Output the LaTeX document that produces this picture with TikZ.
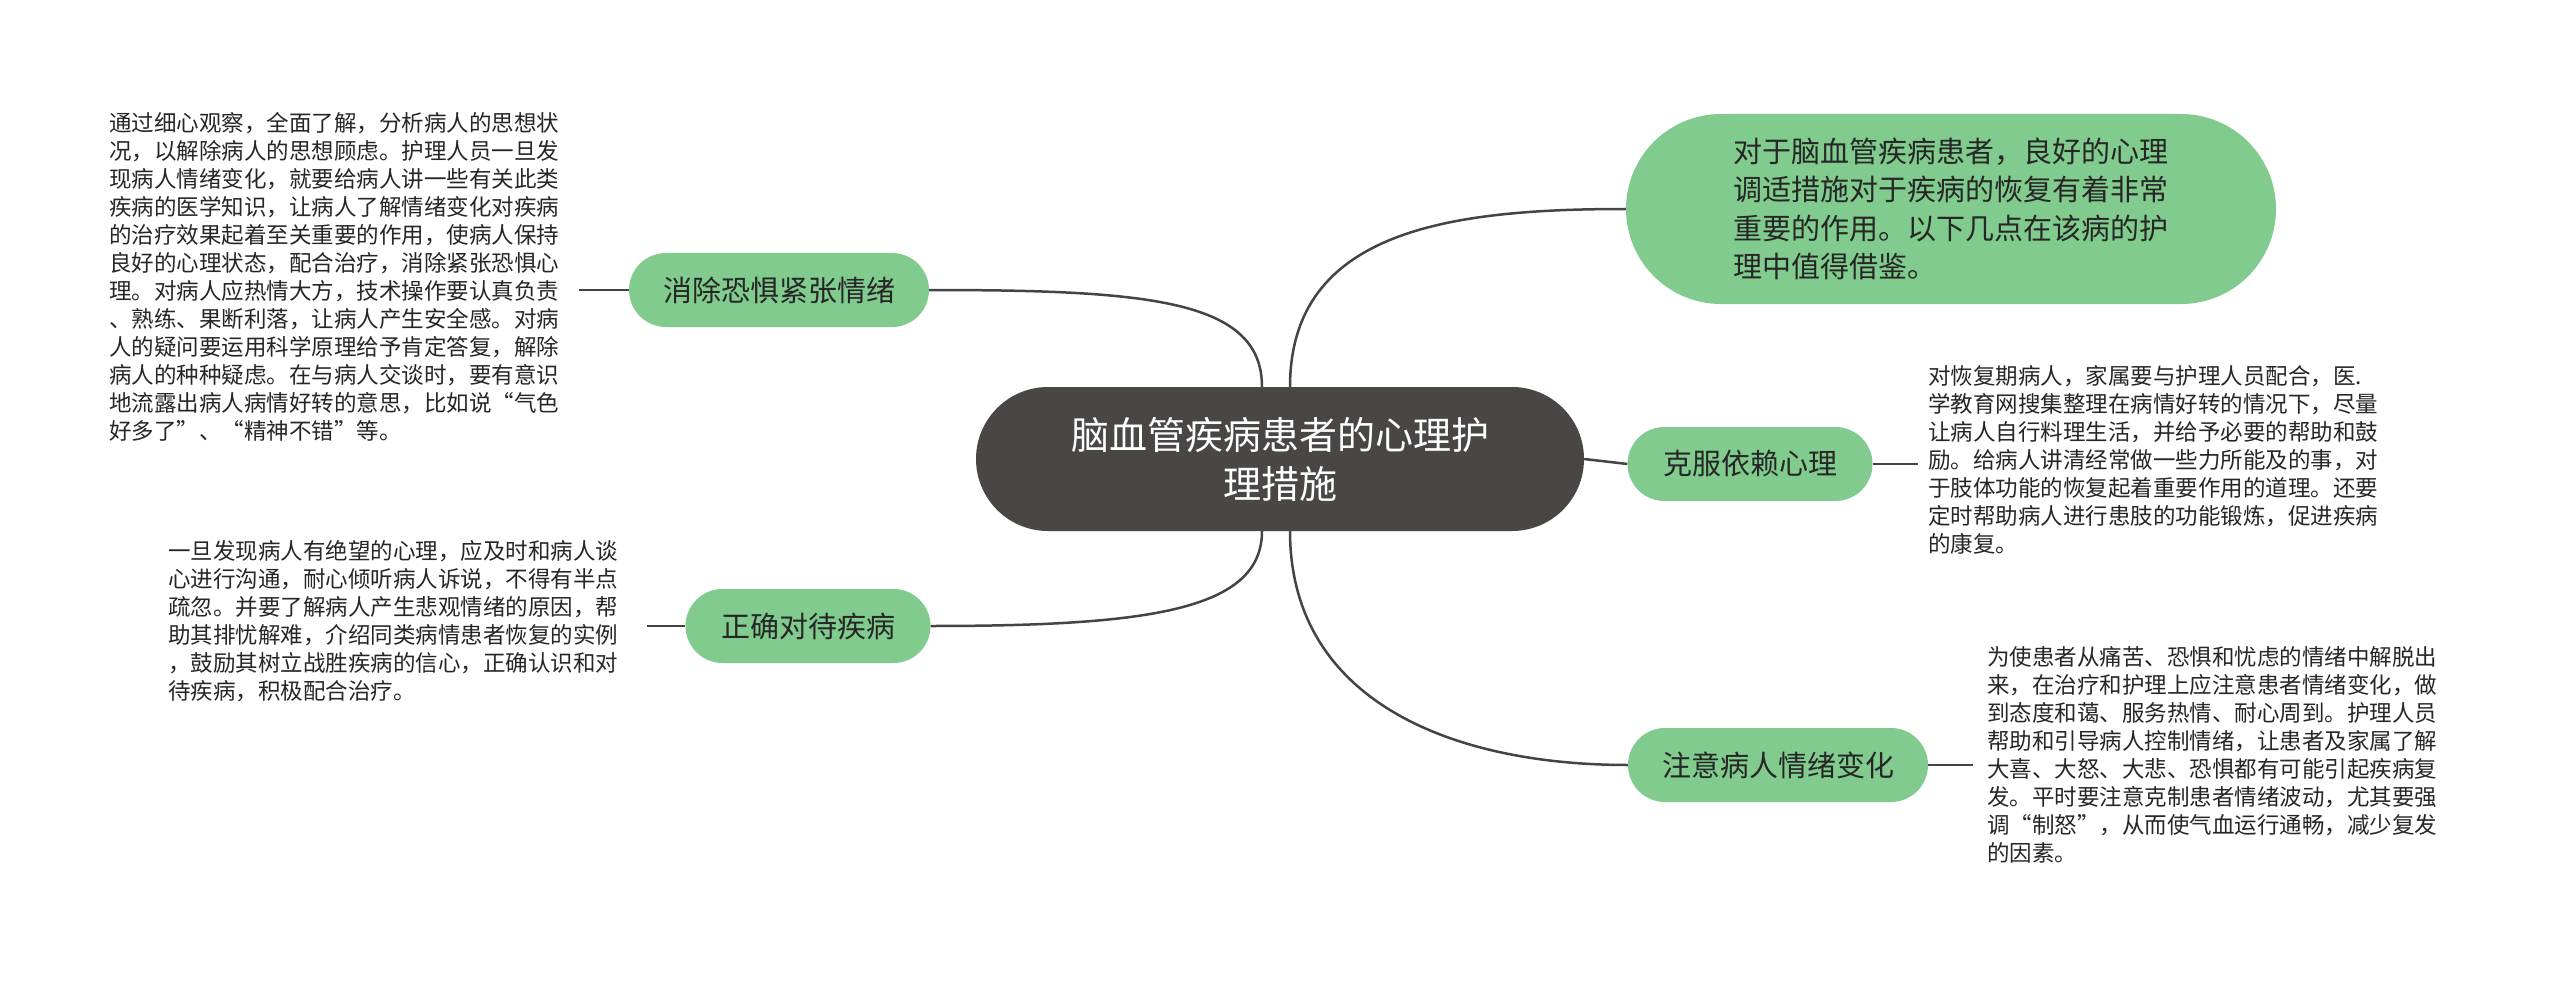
\documentclass[tikz,border=0pt]{standalone}
\usepackage{fontspec}
\setmainfont{Noto Sans CJK SC}
\begin{document}
\begin{tikzpicture}[x=1pt,y=-1pt,
  green/.style={fill=gnode,draw=none,inner sep=0pt,text=black!85},
  child/.style={green,rounded corners=37pt,minimum width=245pt,minimum height=74pt,font=\fontsize{29}{36}\selectfont},
  note/.style={anchor=north west,align=left,inner sep=0pt,text=black!85,font=\fontsize{22.5}{28}\selectfont},
  link/.style={draw=lk,line width=2.5pt}]
\definecolor{gnode}{HTML}{80CB8D}
\definecolor{lk}{HTML}{444444}
\definecolor{dk}{HTML}{4B4646}
\useasboundingbox (0,0) rectangle (2560,995);
\fill[white] (0,0) rectangle (2560,995);
\node[fill=dk,rounded corners=72pt,minimum width=608pt,minimum height=144pt,inner sep=0pt,text=white,align=center,font=\fontsize{38}{49}\selectfont] (c) at (1280,459) {脑血管疾病患者的心理护\\理措施};
\node[green,rounded corners=95pt,minimum width=650pt,minimum height=190pt,align=left,font=\fontsize{29}{38.4}\selectfont] (t) at (1951,209) {对于脑血管疾病患者，良好的心理\\调适措施对于疾病的恢复有着非常\\重要的作用。以下几点在该病的护\\理中值得借鉴。};
\node[child,minimum width=245pt] (k) at (1750,464) {克服依赖心理};
\node[child,minimum width=300pt] (z) at (1778,765) {注意病人情绪变化};
\node[child,minimum width=300pt] (x) at (779,290) {消除恐惧紧张情绪};
\node[child,minimum width=245pt] (q) at (808,626) {正确对待疾病};
\node[note] (nx) at (109,112) {通过细心观察，全面了解，分析病人的思想状\\况，以解除病人的思想顾虑。护理人员一旦发\\现病人情绪变化，就要给病人讲一些有关此类\\疾病的医学知识，让病人了解情绪变化对疾病\\的治疗效果起着至关重要的作用，使病人保持\\良好的心理状态，配合治疗，消除紧张恐惧心\\理。对病人应热情大方，技术操作要认真负责\\、熟练、果断利落，让病人产生安全感。对病\\人的疑问要运用科学原理给予肯定答复，解除\\病人的种种疑虑。在与病人交谈时，要有意识\\地流露出病人病情好转的意思，比如说“气色\\好多了”、“精神不错”等。};
\node[note] (nq) at (168,540) {一旦发现病人有绝望的心理，应及时和病人谈\\心进行沟通，耐心倾听病人诉说，不得有半点\\疏忽。并要了解病人产生悲观情绪的原因，帮\\助其排忧解难，介绍同类病情患者恢复的实例\\，鼓励其树立战胜疾病的信心，正确认识和对\\待疾病，积极配合治疗。};
\node[note] (nk) at (1928,365) {对恢复期病人，家属要与护理人员配合，医.\\学教育网搜集整理在病情好转的情况下，尽量\\让病人自行料理生活，并给予必要的帮助和鼓\\励。给病人讲清经常做一些力所能及的事，对\\于肢体功能的恢复起着重要作用的道理。还要\\定时帮助病人进行患肢的功能锻炼，促进疾病\\的康复。};
\node[note] (nz) at (1987,646) {为使患者从痛苦、恐惧和忧虑的情绪中解脱出\\来，在治疗和护理上应注意患者情绪变化，做\\到态度和蔼、服务热情、耐心周到。护理人员\\帮助和引导病人控制情绪，让患者及家属了解\\大喜、大怒、大悲、恐惧都有可能引起疾病复\\发。平时要注意克制患者情绪波动，尤其要强\\调“制怒”，从而使气血运行通畅，减少复发\\的因素。};
\draw[link] (1290,387) .. controls (1290,230) and (1450,209) .. (t.west);
\draw[link] (c.east) -- (k.west);
\draw[link] (1290,531) .. controls (1290,700) and (1450,765) .. (z.west);
\draw[link] (1262,387) .. controls (1262,300) and (1150,290) .. (x.east);
\draw[link] (1262,531) .. controls (1262,610) and (1150,626) .. (q.east);
\draw[link] (x.west) -- ++(-50,0);
\draw[link] (q.west) -- ++(-38,0);
\draw[link] (k.east) -- ++(45,0);
\draw[link] (z.east) -- ++(45,0);
\end{tikzpicture}
\end{document}
